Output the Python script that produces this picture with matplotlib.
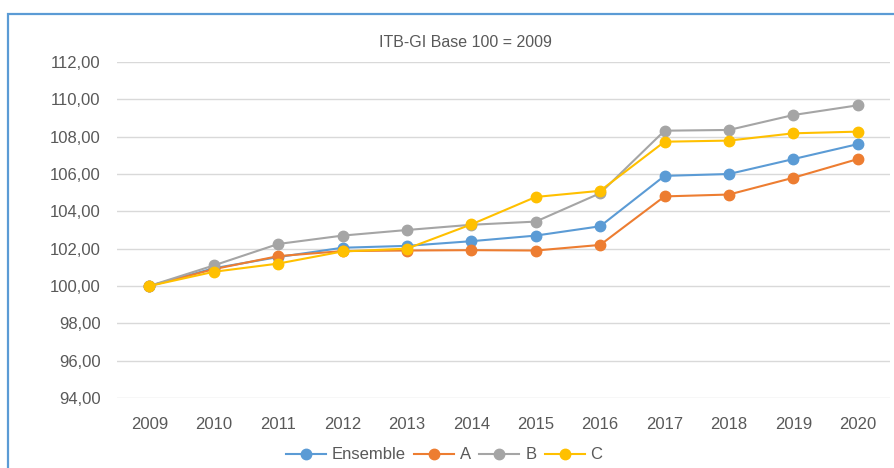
import matplotlib.pyplot as plt
from matplotlib.patches import Rectangle

annees = [str(a) for a in range(2009, 2021)]
ensemble = [100.0, 100.95, 101.55, 102.05, 102.15, 102.4, 102.7, 103.2, 105.9, 106.0, 106.8, 107.6]
serie_a = [100.0, 100.9, 101.6, 101.87, 101.9, 101.92, 101.9, 102.2, 104.8, 104.9, 105.8, 106.8]
serie_b = [100.0, 101.1, 102.25, 102.7, 103.0, 103.28, 103.45, 104.97, 108.32, 108.36, 109.16, 109.68]
serie_c = [100.0, 100.76, 101.2, 101.85, 102.0, 103.3, 104.77, 105.1, 107.73, 107.79, 108.18, 108.27]
noms = ['Ensemble', 'A', 'B', 'C']
couleurs = ['#5B9BD5', '#ED7D31', '#A5A5A5', '#FFC000']

plt.rcParams['font.family'] = ['Liberation Sans', 'DejaVu Sans']
gris = '#595959'

fig = plt.figure(figsize=(8.94, 4.68), dpi=100)
ax = fig.add_axes([0.131, 0.1496, 0.8645, 0.7179])

x = list(range(len(annees)))
for serie, nom, c in zip([ensemble, serie_a, serie_b, serie_c], noms, couleurs):
    ax.plot(x, serie, color=c, lw=1.5, marker='o', ms=7.5, label=nom, zorder=3)

ax.set_xlim(-0.5, 11.5)
ax.set_ylim(94, 112)
ax.set_yticks(range(94, 113, 2))
ax.set_yticklabels([f'{v},00' for v in range(94, 113, 2)])
ax.set_xticks(x)
ax.set_xticklabels(annees)
ax.grid(axis='y', color='#D9D9D9', lw=1)
ax.set_axisbelow(True)
for s in ax.spines.values():
    s.set_visible(False)
ax.tick_params(length=0, labelsize=12, colors=gris, pad=12)
ax.tick_params(axis='x', pad=14)

fig.text(0.521, 0.91, 'ITB-GI Base 100 = 2009', ha='center', va='center',
         fontsize=11.5, color=gris)

leg = fig.legend(loc='center', bbox_to_anchor=(0.497, 0.028), ncol=4, frameon=False,
                 fontsize=12, handlelength=2.4, columnspacing=0.5, handletextpad=0.35)
for t in leg.get_texts():
    t.set_color(gris)

fig.patches.append(Rectangle((8 / 894, -0.1), 1.2, 1 - 14 / 468 + 0.1,
                             transform=fig.transFigure, fill=False,
                             edgecolor='#5B9BD5', lw=1.6))

fig.savefig('out.png', dpi=100)
